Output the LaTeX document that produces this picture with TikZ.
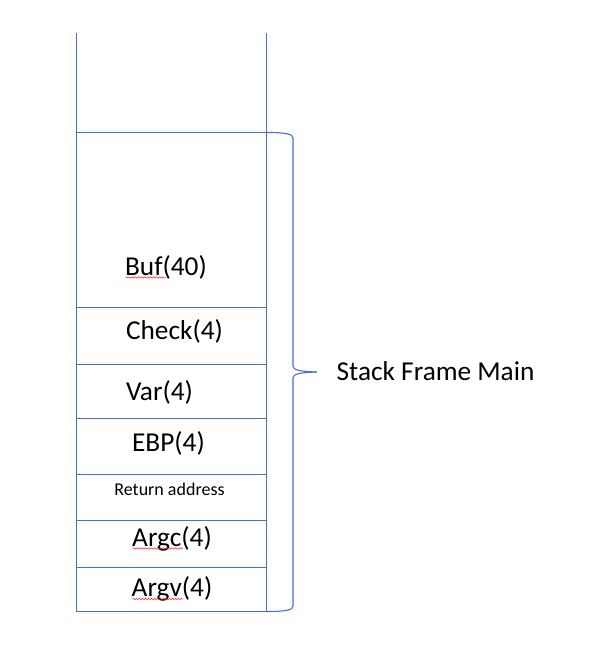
\documentclass[tikz,border=0pt]{standalone}
\usepackage{fontspec}
\setmainfont{Carlito}
\usetikzlibrary{decorations.pathmorphing}
\definecolor{lineblue}{HTML}{4472C4}
\definecolor{squig}{HTML}{E03030}
\begin{document}
\begin{tikzpicture}[x=1pt,y=-1pt,
  cell/.style={draw=lineblue,line width=1.2pt,minimum width=190pt,inner sep=0pt,outer sep=0pt,anchor=north west},
  lbl/.style={anchor=base,inner sep=0pt,font=\fontsize{27.3}{30}\selectfont},
  small/.style={anchor=base,inner sep=0pt,font=\fontsize{18}{21}\selectfont},
  spell/.style={draw=squig,line width=0.5pt,decorate,decoration={snake,amplitude=0.8pt,segment length=3pt}},
  bracepath/.style={draw=lineblue,line width=1.1pt}]
\useasboundingbox (0,0) rectangle (593,646);
% open top part
\coordinate (tl) at (76.5,33);
\coordinate (tr) at (266.5,33);
\node[cell,minimum height=175pt] (buf) at (76.5,132.5) {};
\node[cell,minimum height=57pt] (check) at (76.5,307.5) {};
\node[cell,minimum height=54pt] (var) at (76.5,364.5) {};
\node[cell,minimum height=56pt] (ebp) at (76.5,418.5) {};
\node[cell,minimum height=46pt] (ret) at (76.5,474.5) {};
\node[cell,minimum height=47pt] (argc) at (76.5,520.5) {};
\node[cell,minimum height=44pt] (argv) at (76.5,567.5) {};
\draw[lineblue,line width=1.2pt] (tl) -- (buf.north west);
\draw[lineblue,line width=1.2pt] (tr) -- (buf.north east);
% labels
\node[lbl] (tbuf) at (166,275) {Buf(40)};
\node[lbl] (tcheck) at (174.5,339.5) {Check(4)};
\node[lbl] (tvar) at (159.5,400.5) {Var(4)};
\node[lbl] (tebp) at (168.5,451) {EBP(4)};
\node[small] (tret) at (169.5,495.5) {Return address};
\node[lbl] (targc) at (172,546) {Argc(4)};
\node[lbl] (targv) at (172,596.5) {Argv(4)};
% spell-check squiggles
\draw[spell] (125.5,277.5) -- (165.5,277.5);
\draw[spell] (132.5,548.5) -- (183,548.5);
\draw[spell] (132.5,599) -- (183,599);
% brace
\coordinate (btop) at (267,132.5);
\coordinate (bbot) at (267,611.5);
\coordinate (btip) at (316.5,372);
\draw[bracepath] (btop) .. controls (286,132.5) and (293,134) .. (293,138) -- (293,366)
  .. controls (293,370) and (300,371.5) .. (btip);
\draw[bracepath] (btip) .. controls (300,372.5) and (293,374) .. (293,378) -- (293,606)
  .. controls (293,610) and (286,611.5) .. (bbot);
\node[lbl,anchor=base west] (frame) at (336.5,380) {Stack Frame Main};
\end{tikzpicture}
\end{document}
